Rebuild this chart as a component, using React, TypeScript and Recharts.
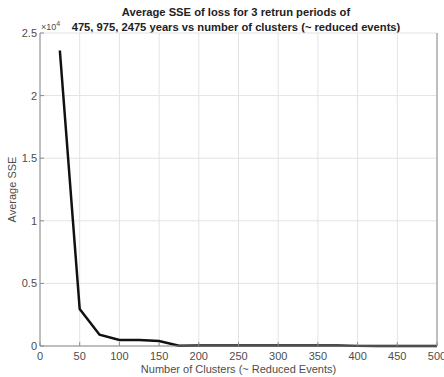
import React from 'react';
import { LineChart, Line, XAxis, YAxis, CartesianGrid, Label } from 'recharts';

// number of clusters (reduced events) and average SSE
const clusters = [25, 50, 75, 100, 125, 150, 175, 200, 225, 250, 275, 300, 325, 350, 375, 400, 425, 450, 475, 500];
const avgSse = [23600, 2950, 900, 480, 480, 400, 20, 30, 30, 30, 30, 30, 30, 30, 30, 10, 10, 10, 10, 10];

const xTicks = [0, 50, 100, 150, 200, 250, 300, 350, 400, 450, 500];
const yTicks = [0, 5000, 10000, 15000, 20000, 25000];

const titleLines = [
  'Average SSE of loss for 3 retrun periods of',
  '475, 975, 2475 years vs number of clusters (~ reduced events)',
];

const data = clusters.map((c, i) => ({ clusters: c, sse: avgSse[i] }));

const font = '"Liberation Sans", Arial, sans-serif';
const axisColor = '#8c8c8c';
const textColor = '#4d4d4d';

export default function App() {
  const tickStyle = { fontSize: 11, fill: textColor, fontFamily: font };

  return (
    <div style={{ position: 'absolute', left: 0, top: 0, width: 444, height: 377, background: '#fff', fontFamily: font }}>
      <div
        style={{
          position: 'absolute',
          left: 36,
          width: 400,
          top: 5,
          textAlign: 'center',
          fontWeight: 'bold',
          fontSize: 11.2,
          lineHeight: '14.5px',
          color: '#222',
        }}
      >
        {titleLines.map((t) => (
          <div key={t}>{t}</div>
        ))}
      </div>
      <div style={{ position: 'absolute', left: 41, top: 20, fontSize: 9, color: textColor }}>
        ×10<sup style={{ fontSize: 7 }}>4</sup>
      </div>
      <LineChart width={444} height={377} data={data} margin={{ top: 33, right: 0, bottom: 0, left: 0 }}>
        <CartesianGrid stroke="#e3e3e3" vertical horizontal />
        <XAxis
          dataKey="clusters"
          type="number"
          domain={[0, 500]}
          ticks={xTicks}
          height={31}
          tickSize={-4}
          tickMargin={10}
          interval={0}
          stroke={axisColor}
          tick={tickStyle}
        >
          <Label
            value="Number of Clusters (~ Reduced Events)"
            position="insideBottom"
            offset={4}
            style={{ fontSize: 11, fill: textColor, fontFamily: font }}
          />
        </XAxis>
        <XAxis
          xAxisId="top"
          orientation="top"
          dataKey="clusters"
          type="number"
          domain={[0, 500]}
          ticks={xTicks}
          height={0}
          tickSize={-4}
          stroke={axisColor}
          tick={false}
        />
        <YAxis
          type="number"
          domain={[0, 25000]}
          ticks={yTicks}
          width={40}
          tickSize={-4}
          tickMargin={7}
          interval={0}
          stroke={axisColor}
          tick={tickStyle}
          tickFormatter={(v: number) => String(v / 10000)}
        >
          <Label
            value="Average SSE"
            angle={-90}
            position="insideLeft"
            offset={12}
            style={{ fontSize: 11, fill: textColor, fontFamily: font, textAnchor: 'middle' }}
          />
        </YAxis>
        <YAxis
          yAxisId="right"
          orientation="right"
          type="number"
          domain={[0, 25000]}
          ticks={yTicks}
          width={7}
          tickSize={-4}
          stroke={axisColor}
          tick={false}
        />
        <Line
          type="linear"
          dataKey="sse"
          stroke="#111"
          strokeWidth={2.5}
          dot={false}
          isAnimationActive={false}
        />
      </LineChart>
    </div>
  );
}
